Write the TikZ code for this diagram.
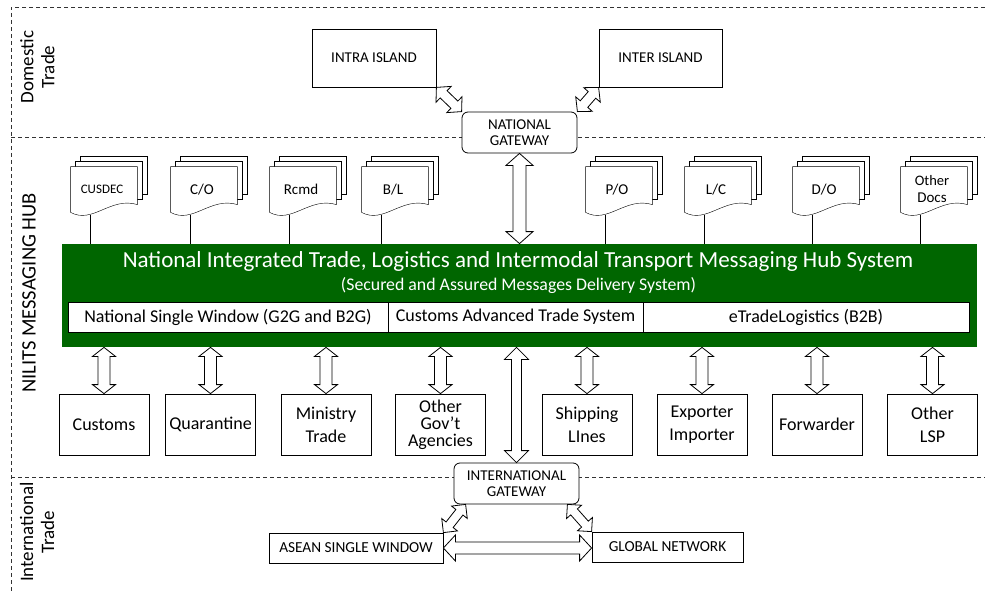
\documentclass[tikz,border=0pt]{standalone}
\usepackage{fontspec}
\setmainfont{Carlito}
\usetikzlibrary{calc,positioning,backgrounds}
\definecolor{hubgreen}{RGB}{0,102,0}

\newcommand{\dbarrow}[5]{%
  \draw[fill=white] (#1) -- ($(#1)!#5!(#2)!#4!90:(#2)$) -- ($(#1)!#5!(#2)!#3!90:(#2)$)
    -- ($(#2)!#5!(#1)!#3!-90:(#1)$) -- ($(#2)!#5!(#1)!#4!-90:(#1)$) -- (#2)
    -- ($(#2)!#5!(#1)!#4!90:(#1)$) -- ($(#2)!#5!(#1)!#3!90:(#1)$)
    -- ($(#1)!#5!(#2)!#3!-90:(#2)$) -- ($(#1)!#5!(#2)!#4!-90:(#2)$) -- cycle;}

\begin{document}
\begin{tikzpicture}[x=1pt,y=-1pt,line width=0.8pt,
    frame/.style={dash pattern=on 4pt off 3pt,line width=0.7pt,draw=black!80},
    box/.style={draw,fill=white,align=center,inner sep=1pt,font=\fontsize{18}{23}\selectfont,
                minimum width=90pt,minimum height=61pt},
    capbox/.style={box,font=\fontsize{15}{17}\selectfont},
    gate/.style={draw,fill=white,rounded corners=6pt,align=center,inner sep=1pt,
                 font=\fontsize{15}{16.5}\selectfont,minimum height=41pt},
    doc/.style={minimum width=66pt,minimum height=45pt,inner sep=0pt,align=center,
                font=\fontsize{15}{17}\selectfont},
    cell/.style={draw,fill=white,minimum height=30pt,inner sep=0pt,font=\fontsize{18}{20}\selectfont},
    side/.style={rotate=90,align=center,font=\fontsize{19}{21}\selectfont}]

  \useasboundingbox (0,0) rectangle (985,591);

  \draw[frame] (985,7) -- (11,7) -- (11,591);
  \draw[frame] (11,137) -- (985,137);
  \draw[frame] (11,477) -- (985,477);

  \node[side] (dom) at (37.5,67) {Domestic\\Trade};
  \node[side,font=\fontsize{20.5}{22}\selectfont] (nilits) at (29,293) {NILITS MESSAGING HUB};
  \node[side] (intl) at (37,532) {International\\Trade};

  \node[capbox,minimum width=124pt,minimum height=58pt] (intra) at (374,58) {INTRA ISLAND};
  \node[capbox,minimum width=123pt,minimum height=58pt] (inter) at (660.5,58) {INTER ISLAND};
  \node[gate,minimum width=115pt] (gwn) at (519.5,132.5) {NATIONAL\\GATEWAY};

  \node[fill=hubgreen,minimum width=915pt,minimum height=103pt] (hub) at (519.5,295.5) {};
  \node[text=white,font=\fontsize{23}{26}\selectfont] (title) at (518,261)
    {National Integrated Trade, Logistics and Intermodal Transport Messaging Hub System};
  \node[text=white,font=\fontsize{17.8}{20}\selectfont] (subtitle) at (518.5,286)
    {(Secured and Assured Messages Delivery System)};
  \node[cell,minimum width=320pt] (nsw) at (228,317) {National Single Window (G2G and B2G)};
  \node[cell,minimum width=255pt] (cats) at (515.5,317) {Customs Advanced Trade System};
  \node[cell,minimum width=326pt] (etl) at (806,317) {eTradeLogistics (B2B)};

  \foreach \nm/\xx/\tx in {cusdec/71/{\fontsize{13}{15}\selectfont CUSDEC}, cert/171/{C/O}, rcmd/270/Rcmd,
                        bill/362/{B/L}, po/586/{P/O}, lc/685/{L/C}, dord/793/{D/O},
                        odocs/901/{\fontsize{14.5}{17}\selectfont Other\\Docs}} {
    \node[doc] (\nm) at (\xx+31,189.5) {\tx};
    \begin{scope}[on background layer]
      \foreach \k in {2,1}
        \draw[fill=white] ([shift={(2+5*\k,-5*\k)}]\nm.north west) rectangle ([shift={(2+5*\k,38-5*\k)}]\nm.north east);
      \draw[fill=white] ([xshift=2pt]\nm.north west) -- ([xshift=2pt]\nm.north east) -- ([shift={(2,38)}]\nm.north east)
        .. controls ([shift={(42,-16)}]\nm.south west) and ([shift={(24,12)}]\nm.south west) .. ([xshift=2pt]\nm.south west) -- cycle;
    \end{scope}
    \coordinate (l\nm) at ([shift={(22,2.5)}]\nm.south west);
    \draw (l\nm) -- (l\nm |- hub.north);
  }

  \foreach \nm/\xx/\tx in {customs/104/Customs, quar/210.5/Quarantine, mintrade/326/{Ministry\\Trade},
                        ogov/440.5/{Other\\[-6pt]Gov’t\\[-6pt]Agencies}, ship/587/{Shipping\\LInes},
                        expimp/702/{Exporter\\Importer}, fwd/817/Forwarder, olsp/932.5/{Other\\LSP}} {
    \node[box] (\nm) at (\xx,424.5) {\tx};
    \coordinate (t\nm) at (\nm.north |- hub.south);
    \dbarrow{t\nm}{\nm.north}{6pt}{11.5pt}{9pt}
  }

  \coordinate (gwnbar) at (gwn.south |- hub.north);
  \dbarrow{gwn.south}{gwnbar}{6.5pt}{13.5pt}{12pt}
  \dbarrow{intra.south east}{gwn.north west}{5pt}{11pt}{10pt}
  \dbarrow{inter.south west}{gwn.north east}{5pt}{11pt}{10pt}

  \node[gate,minimum width=125pt] (gwi) at (516.5,483.5) {INTERNATIONAL\\GATEWAY};
  \coordinate (gwibar) at (hub.south -| gwi.north);
  \dbarrow{gwibar}{gwi.north}{5pt}{12pt}{12pt}

  \node[capbox,minimum width=174pt,minimum height=30pt,font=\fontsize{15.3}{17}\selectfont] (asean) at (356,548) {ASEAN SINGLE WINDOW};
  \node[capbox,minimum width=151pt,minimum height=30pt,font=\fontsize{15.3}{17}\selectfont] (global) at (667.5,547) {GLOBAL NETWORK};
  \coordinate (gwisw) at ([xshift=12pt]gwi.south west);
  \coordinate (gwise) at ([xshift=-12pt]gwi.south east);
  \coordinate (globw) at (asean.east -| global.west);
  \dbarrow{asean.east}{globw}{6pt}{13pt}{12pt}
  \dbarrow{gwisw}{asean.north east}{4.5pt}{10pt}{10pt}
  \dbarrow{gwise}{global.north west}{4.5pt}{10pt}{10pt}
\end{tikzpicture}
\end{document}
